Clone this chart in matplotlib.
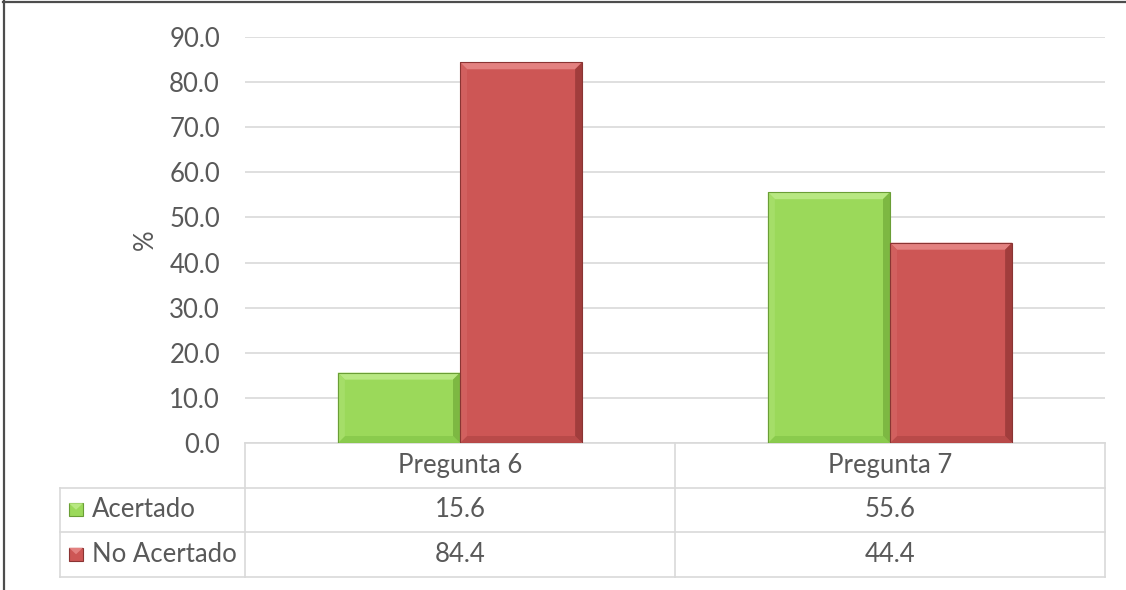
import matplotlib
matplotlib.use("Agg")
import matplotlib.pyplot as plt
from matplotlib.patches import Polygon, Rectangle
from matplotlib.lines import Line2D
from matplotlib.transforms import blended_transform_factory

# data
categories = ["Pregunta 6", "Pregunta 7"]
series_names = ["Acertado", "No Acertado"]
acertado = [15.6, 55.6]
no_acertado = [84.4, 44.4]
yticks = [0, 10, 20, 30, 40, 50, 60, 70, 80, 90]

# styles: face, top bevel, bottom bevel, side bevel, edge
GREEN = dict(face="#9bd95a", top="#b8e882", bottom="#8acb4d", left="#a5de68", right="#7db842", edge="#6a9e36")
RED = dict(face="#cd5655", top="#e38180", bottom="#b94a49", left="#d2605f", right="#a13d3c", edge="#8a3433")
TEXT = "#595959"
GRID = "#d9d9d9"
FONT = "Lato"
FS = 18.5

plt.rcParams["font.family"] = [FONT, "DejaVu Sans"]

W, H = 1126, 590
fig = plt.figure(figsize=(W / 100, H / 100), dpi=100)
ax = fig.add_axes([245 / W, 1 - 443 / H, 860 / W, 406 / H])
ax.set_xlim(-0.5, 1.5)
ax.set_ylim(0, 90)

bw = 0.284
x = list(range(len(categories)))


def bevel(ax, rect, st, px=7):
    x0, y0 = rect.get_x(), rect.get_y()
    x1, y1 = x0 + rect.get_width(), y0 + rect.get_height()
    # bevel size in data units from pixel size
    inv = ax.transData.inverted()
    p0 = inv.transform((0, 0))
    p1 = inv.transform((px, px))
    dx, dy = p1[0] - p0[0], p1[1] - p0[1]
    dy = min(dy, (y1 - y0) / 2)
    polys = [
        ([(x0, y1), (x1, y1), (x1 - dx, y1 - dy), (x0 + dx, y1 - dy)], st["top"]),
        ([(x0, y0), (x1, y0), (x1 - dx, y0 + dy), (x0 + dx, y0 + dy)], st["bottom"]),
        ([(x0, y0), (x0, y1), (x0 + dx, y1 - dy), (x0 + dx, y0 + dy)], st["left"]),
        ([(x1, y0), (x1, y1), (x1 - dx, y1 - dy), (x1 - dx, y0 + dy)], st["right"]),
    ]
    for pts, c in polys:
        ax.add_patch(Polygon(pts, closed=True, facecolor=c, edgecolor="none", zorder=3))
    ax.add_patch(Rectangle((x0, y0), x1 - x0, y1 - y0, facecolor="none",
                           edgecolor=st["edge"], lw=0.8, zorder=4))


bars_a = ax.bar([i - bw / 2 for i in x], acertado, bw, color=GREEN["face"], zorder=2)
bars_n = ax.bar([i + bw / 2 for i in x], no_acertado, bw, color=RED["face"], zorder=2)
for r in bars_a:
    bevel(ax, r, GREEN)
for r in bars_n:
    bevel(ax, r, RED)

ax.set_yticks(yticks)
ax.set_yticklabels([f"{v:.1f}" for v in yticks], fontsize=FS, color=TEXT)
ax.yaxis.grid(True, color=GRID, lw=1.2)
ax.set_axisbelow(True)
ax.tick_params(axis="y", length=0, pad=18)
ax.tick_params(axis="x", bottom=False, labelbottom=False)
for s in ax.spines.values():
    s.set_visible(False)
ax.set_ylabel("%", fontsize=FS, color=TEXT, labelpad=8)

# data table below the plot area
tr = blended_transform_factory(ax.transData, ax.transAxes)
row_h = 44.5 / 406
legend_left = ax.transData.inverted().transform((60, 0))[0]
edges = [i - 0.5 for i in x] + [x[-1] + 0.5]
n_rows = 1 + len(series_names)
bottom = -n_rows * row_h


def hline(x0, x1, y):
    ax.add_line(Line2D([x0, x1], [y, y], transform=tr, color=GRID, lw=1.2, clip_on=False))


def vline(xv, y0, y1):
    ax.add_line(Line2D([xv, xv], [y0, y1], transform=tr, color=GRID, lw=1.2, clip_on=False))


hline(edges[0], edges[-1], 0)
for k in range(1, n_rows + 1):
    hline(legend_left, edges[-1], -k * row_h)
for e in edges:
    vline(e, 0, bottom)
vline(legend_left, -row_h, bottom)

for i, c in enumerate(categories):
    ax.text(i, -0.5 * row_h, c, transform=tr, ha="center", va="center", fontsize=FS, color=TEXT)

for k, (name, vals, st) in enumerate([(series_names[0], acertado, GREEN),
                                      (series_names[1], no_acertado, RED)]):
    yc = -(k + 1.5) * row_h
    for i, v in enumerate(vals):
        ax.text(i, yc, f"{v:.1f}", transform=tr, ha="center", va="center", fontsize=FS, color=TEXT)
    # legend key: small bevelled square
    kx0 = ax.transData.inverted().transform((69, 0))[0]
    kx1 = ax.transData.inverted().transform((83, 0))[0]
    kh = 13 / 406
    ax.add_patch(Rectangle((kx0, yc - kh / 2), kx1 - kx0, kh, transform=tr, facecolor=st["face"],
                           edgecolor=st["edge"], lw=0.8, clip_on=False))
    ax.add_patch(Polygon([(kx0, yc + kh / 2), (kx1, yc + kh / 2), ((kx0 + kx1) / 2, yc)],
                         closed=True, transform=tr, facecolor=st["top"], edgecolor="none",
                         clip_on=False))
    tx = ax.transData.inverted().transform((92, 0))[0]
    ax.text(tx, yc, name, transform=tr, ha="left", va="center", fontsize=FS, color=TEXT)

# outer frame (top and left edges)
fig.add_artist(Line2D([3.5 / W, 3.5 / W], [0, 1 - 1 / H], transform=fig.transFigure, color="#4d4d4d", lw=1.6))
fig.add_artist(Line2D([3 / W, 1], [1 - 1.5 / H, 1 - 1.5 / H], transform=fig.transFigure, color="#4d4d4d", lw=1.6))

fig.savefig("out.png", dpi=100, facecolor="white")
